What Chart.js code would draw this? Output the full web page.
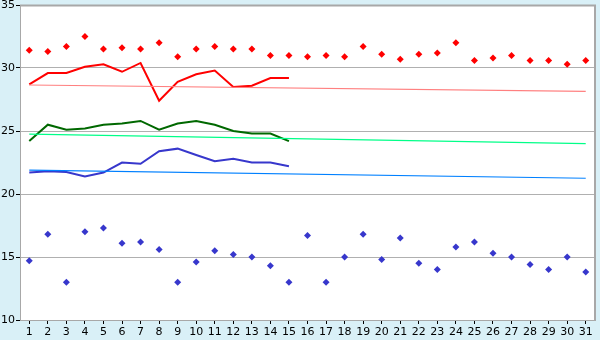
<!DOCTYPE html>
<html>
<head>
<meta charset="utf-8">
<script src="https://cdn.jsdelivr.net/npm/chart.js@4"></script>
<style>
  html, body { margin: 0; padding: 0; background: #d9f0f7; }
  #wrap { width: 600px; height: 340px; }
</style>
</head>
<body>
<div id="wrap"><canvas id="temp-chart" width="600" height="340"></canvas></div>
<script>
// days of the month
const days = ['1','2','3','4','5','6','7','8','9','10','11','12','13','14','15','16',
  '17','18','19','20','21','22','23','24','25','26','27','28','29','30','31'];

// record highs (red diamonds)
const recordHigh = [31.4, 31.3, 31.7, 32.5, 31.5, 31.6, 31.5, 32.0, 30.9, 31.5, 31.7, 31.5, 31.5, 31.0, 31.0, 30.9,
  31.0, 30.9, 31.7, 31.1, 30.7, 31.1, 31.2, 32.0, 30.6, 30.8, 31.0, 30.6, 30.6, 30.3, 30.6];

// record lows (blue diamonds)
const recordLow = [14.7, 16.8, 13.0, 17.0, 17.3, 16.1, 16.2, 15.6, 13.0, 14.6, 15.5, 15.2, 15.0, 14.3, 13.0, 16.7,
  13.0, 15.0, 16.8, 14.8, 16.5, 14.5, 14.0, 15.8, 16.2, 15.3, 15.0, 14.4, 14.0, 15.0, 13.8];

// this month so far
const maxTemp = [28.7, 29.6, 29.6, 30.1, 30.3, 29.7, 30.4, 27.4, 28.9, 29.5, 29.8, 28.5, 28.6, 29.2, 29.2];
const meanTemp = [24.2, 25.5, 25.1, 25.2, 25.5, 25.6, 25.8, 25.1, 25.6, 25.8, 25.5, 25.0, 24.8, 24.8, 24.2];
const minTemp = [21.7, 21.8, 21.75, 21.4, 21.7, 22.5, 22.4, 23.4, 23.6, 23.1, 22.6, 22.8, 22.5, 22.5, 22.2];

// normals: start and end of month
const normalMax = [28.65, 28.15];
const normalMean = [24.75, 24.0];
const normalMin = [21.9, 21.25];

const yTicks = [10, 15, 20, 25, 30, 35];

function endpoints(pair) {
  const arr = days.map(() => null);
  arr[0] = pair[0];
  arr[days.length - 1] = pair[1];
  return arr;
}

const panelBg = {
  id: 'panelBg',
  beforeDraw(chart) {
    const { ctx, chartArea: a } = chart;
    ctx.save();
    ctx.fillStyle = '#d9f0f7';
    ctx.fillRect(0, 0, chart.width, chart.height);
    ctx.fillStyle = '#ffffff';
    ctx.fillRect(a.left, a.top, a.right - a.left, a.bottom - a.top);
    ctx.restore();
  },
  afterDraw(chart) {
    const { ctx, chartArea: a } = chart;
    ctx.save();
    ctx.strokeStyle = '#a8a8a8';
    ctx.lineWidth = 2;
    ctx.beginPath();
    ctx.moveTo(a.left, a.top + 0.5);
    ctx.lineTo(a.right, a.top + 0.5);
    ctx.lineTo(a.right, a.bottom);
    ctx.stroke();
    ctx.restore();
  }
};

const trendStyle = { pointRadius: 0, borderWidth: 1.2, spanGaps: true, tension: 0, fill: false };
const lineStyle = { pointRadius: 0, borderWidth: 2, tension: 0, fill: false };
const dotStyle = { showLine: false, pointStyle: 'rectRot', pointRadius: 3.5, pointBorderWidth: 0 };

new Chart(document.getElementById('temp-chart'), {
  type: 'line',
  data: {
    labels: days,
    datasets: [
      Object.assign({ data: endpoints(normalMax), borderColor: '#ff8080' }, trendStyle),
      Object.assign({ data: endpoints(normalMean), borderColor: '#00ff88' }, trendStyle),
      Object.assign({ data: endpoints(normalMin), borderColor: '#0080ff' }, trendStyle),
      Object.assign({ data: maxTemp, borderColor: '#ff0000' }, lineStyle),
      Object.assign({ data: meanTemp, borderColor: '#006800' }, lineStyle),
      Object.assign({ data: minTemp, borderColor: '#3737cc' }, lineStyle),
      Object.assign({ data: recordHigh, backgroundColor: '#ff0000', borderColor: '#ff0000' }, dotStyle),
      Object.assign({ data: recordLow, backgroundColor: '#3737cc', borderColor: '#3737cc' }, dotStyle)
    ]
  },
  options: {
    responsive: false,
    animation: false,
    layout: { padding: { top: 5, right: 5, left: 0, bottom: 0 } },
    plugins: { legend: { display: false }, tooltip: { enabled: false } },
    scales: {
      x: {
        offset: true,
        grid: { drawOnChartArea: false, drawTicks: true, tickLength: 4, tickColor: '#000' },
        border: { color: '#a8a8a8', width: 1 },
        ticks: { color: '#000', font: { family: 'DejaVu Sans', size: 11 }, padding: 2, maxRotation: 0, autoSkip: false },
        afterFit(scale) { scale.height = 20; scale.paddingLeft = 0; scale.paddingRight = 0; }
      },
      y: {
        min: 10,
        max: 35,
        afterBuildTicks(scale) { scale.ticks = yTicks.map(v => ({ value: v })); },
        grid: { color: '#b0b0b0', drawTicks: true, tickLength: 4, tickColor: '#000' },
        border: { color: '#a8a8a8', width: 1 },
        ticks: { color: '#000', font: { family: 'DejaVu Sans', size: 11 }, padding: 1 },
        afterFit(scale) { scale.width = 20; scale.paddingTop = 0; scale.paddingBottom = 0; }
      }
    }
  },
  plugins: [panelBg]
});
</script>
</body>
</html>
